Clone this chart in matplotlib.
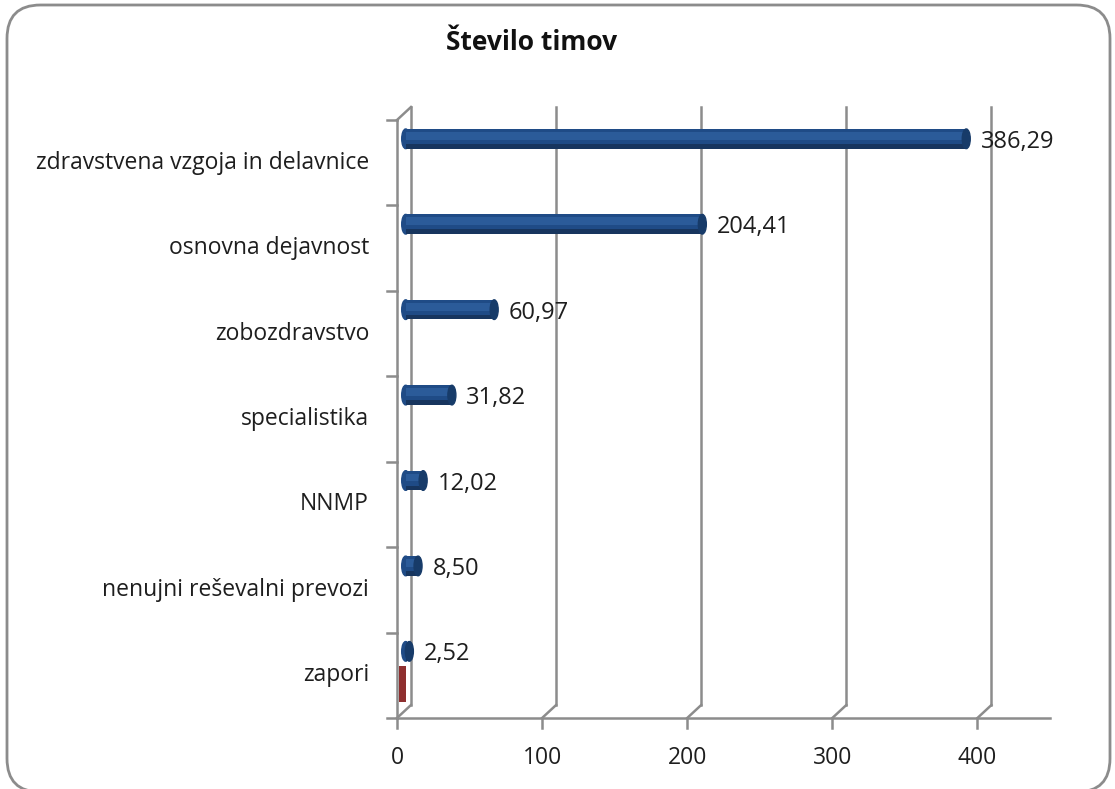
import matplotlib.pyplot as plt
from matplotlib.patches import FancyBboxPatch, Ellipse
import numpy as np

plt.rcParams['font.family'] = ['Open Sans', 'DejaVu Sans']

# data, listed top to bottom as in the chart
categories = ['zdravstvena vzgoja in delavnice', 'osnovna dejavnost', 'zobozdravstvo',
              'specialistika', 'NNMP', 'nenujni reševalni prevozi', 'zapori']
values = [386.29, 204.41, 60.97, 31.82, 12.02, 8.50, 2.52]
value_labels = ['386,29', '204,41', '60,97', '31,82', '12,02', '8,50', '2,52']
# second (red) series, only visible at "zapori"
red_values = [0, 0, 0, 0, 0, 0, 5]
xticks = [0, 100, 200, 300, 400]
title = 'Število timov'

W, H = 1115, 789
fig = plt.figure(figsize=(W / 100, H / 100), dpi=100)

# axes placed in pixel terms
x0_px, x1_px = 397, 1050
ytop_px, ybot_px = 120, 718
ax = fig.add_axes([x0_px / W, 1 - ybot_px / H, (x1_px - x0_px) / W, (ybot_px - ytop_px) / H])
n = len(categories)
ax.set_xlim(0, 450)
ax.set_ylim(-0.5, n - 0.5)
ax.axis('off')

px_x = 450 / (x1_px - x0_px)      # data units per pixel, x
px_y = n / (ybot_px - ytop_px)    # data units per pixel, y
ddx, ddy = 14 * px_x, 13 * px_y   # depth offset of back wall

grid_c = '#8c8c8c'
txt_c = '#1e1e1e'
lw = 1.8
ybot, ytop = -0.5, n - 0.5

# back wall gridlines
for xt in xticks:
    ax.plot([xt + ddx, xt + ddx], [ybot + ddy, ytop + ddy], color=grid_c, lw=lw, clip_on=False, zorder=1)
    ax.plot([xt, xt + ddx], [ybot, ybot + ddy], color=grid_c, lw=lw, clip_on=False, zorder=1)
    ax.plot([xt, xt], [ybot, ybot - 10 * px_y], color=grid_c, lw=lw, clip_on=False)
    ax.text(xt, ybot - 40 * px_y, str(xt), ha='center', va='center', fontsize=16.5, color=txt_c)
# top diagonal at left
ax.plot([0, ddx], [ytop, ytop + ddy], color=grid_c, lw=lw, clip_on=False, zorder=1)
# front axes
ax.plot([0, 0], [ybot, ytop], color=grid_c, lw=lw, clip_on=False, zorder=1)
ax.plot([0, 450], [ybot, ybot], color=grid_c, lw=lw, clip_on=False, zorder=1)
for k in range(n + 1):
    ax.plot([-10 * px_x, 0], [ybot + k, ybot + k], color=grid_c, lw=lw, clip_on=False)

# bars (cylinder-like)
ypos = np.arange(n)[::-1]
base = 6
bh = 0.23
yb = ypos + 0.28
cap_w = 8 * px_x
for y, v in zip(yb, values):
    ax.add_patch(Ellipse((base, y), cap_w, bh, color='#1f4b86', zorder=2.5))
ax.barh(yb, values, left=base, height=bh, color='#1f4b86', zorder=3)
ax.barh(yb + bh * 0.15, values, left=base, height=bh * 0.4, color='#2b5b99', zorder=3)
ax.barh(yb - bh * 0.38, values, left=base, height=bh * 0.24, color='#17355e', zorder=3)
for y, v in zip(yb, values):
    ax.add_patch(Ellipse((base + v, y), cap_w, bh, color='#173b69', zorder=4))

# red series
ax.barh(ypos - 0.1, red_values, left=1.5, height=0.42, color='#8e2f2f', zorder=2)

# value labels
for y, v, lab in zip(yb, values, value_labels):
    ax.text(base + v + 10, y - 3 * px_y, lab, ha='left', va='center', fontsize=17, color=txt_c, zorder=5)

# category labels
for y, c in zip(ypos, categories):
    ax.text(-28 * px_x, y, c, ha='right', va='center', fontsize=16.5, color=txt_c)

fig.text(532 / W, 1 - 42 / H, title, ha='center', va='center', fontsize=19, fontweight='bold',
         color='#111111')

# rounded border
fig.patches.append(FancyBboxPatch((7 / W, -3 / H), 1103 / W, 787 / H,
                                  boxstyle='round,pad=0,rounding_size=0.03',
                                  transform=fig.transFigure, fill=False,
                                  edgecolor='#8c8c8c', lw=2, mutation_aspect=W / H))

fig.savefig('out.png', dpi=100)
